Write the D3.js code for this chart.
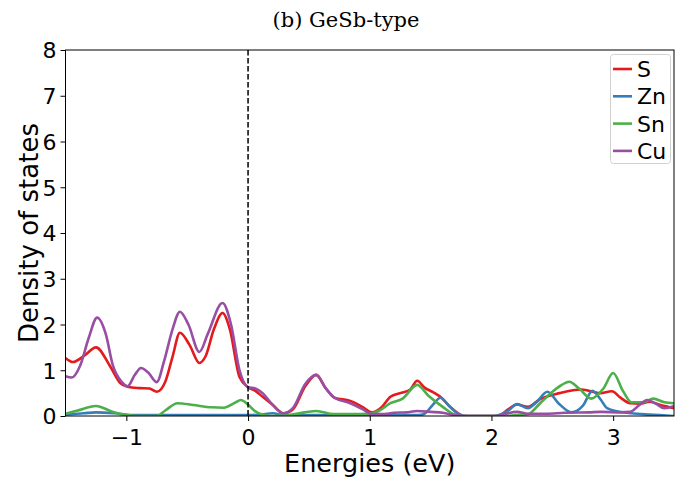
<!DOCTYPE html>
<html>
<head>
<meta charset="utf-8">
<script src="https://cdn.jsdelivr.net/npm/d3@7"></script>
<style>
  html, body { margin: 0; padding: 0; background: #fff; }
  svg { display: block; }
  .tick text { font-family: "DejaVu Sans", sans-serif; font-size: 22px; fill: #000; }
</style>
</head>
<body>
<svg id="chart" width="683" height="479"></svg>
<script>
// Projected density of states, GeSb-type structure (energies relative to E_F)
const species = ["S", "Zn", "Sn", "Cu"];
const colors = ["#e41a1c", "#377eb8", "#4daf4a", "#984ea3"];

const sE = [-1.5,-1.44,-1.34,-1.25,-1.13,-1.05,-0.99,-0.89,-0.81,-0.75,-0.68,-0.62,-0.56,-0.48,-0.40,-0.35,-0.28,-0.21,-0.15,-0.07,0,0.06,0.12,0.2,0.29,0.37,0.47,0.56,0.64,0.71,0.84,0.94,1.02,1.1,1.17,1.25,1.33,1.39,1.45,1.52,1.58,1.66,1.73,1.78,2.02,2.07,2.14,2.21,2.3,2.4,2.56,2.74,2.89,2.99,3.06,3.14,3.22,3.3,3.39,3.5];
const sDos = [1.27,1.18,1.33,1.50,1.07,0.72,0.64,0.61,0.60,0.53,0.75,1.30,1.82,1.55,1.16,1.30,1.90,2.25,1.90,0.85,0.63,0.55,0.42,0.25,0.06,0.15,0.65,0.90,0.60,0.40,0.33,0.20,0.08,0.20,0.42,0.50,0.57,0.77,0.62,0.52,0.42,0.20,0.05,0.0,0.0,0.02,0.15,0.25,0.20,0.37,0.50,0.58,0.50,0.54,0.40,0.28,0.27,0.31,0.24,0.17];

const znE = [-1.5,-1.35,-1.25,-1.1,-0.95,-0.5,0,0.1,0.2,0.3,0.5,1.0,1.4,1.45,1.52,1.58,1.66,1.74,1.8,2.02,2.07,2.14,2.21,2.3,2.37,2.46,2.55,2.66,2.75,2.83,2.9,2.95,3.04,3.15,3.3,3.5];
const znDos = [0.03,0.06,0.08,0.06,0.02,0.02,0.02,0.03,0.06,0.02,0.02,0.02,0.02,0.05,0.25,0.40,0.20,0.03,0.0,0.0,0.03,0.12,0.26,0.17,0.30,0.53,0.28,0.08,0.22,0.55,0.35,0.17,0.10,0.06,0.03,0.0];

const snE = [-1.5,-1.4,-1.25,-1.12,-1.0,-0.9,-0.75,-0.68,-0.58,-0.45,-0.3,-0.2,-0.1,-0.06,0,0.05,0.12,0.2,0.3,0.4,0.56,0.7,0.85,1.0,1.08,1.17,1.27,1.39,1.48,1.6,1.7,1.78,2.1,2.2,2.3,2.4,2.55,2.64,2.72,2.82,2.92,3.0,3.08,3.15,3.25,3.33,3.42,3.5];
const snDos = [0.05,0.12,0.22,0.10,0.02,0.0,0.0,0.12,0.28,0.24,0.19,0.18,0.30,0.35,0.25,0.12,0.03,0.0,0.01,0.05,0.11,0.04,0.04,0.05,0.12,0.28,0.38,0.68,0.45,0.20,0.03,0.0,0.0,0.02,0.04,0.28,0.63,0.75,0.60,0.38,0.60,0.94,0.55,0.30,0.30,0.38,0.30,0.28];

const cuE = [-1.5,-1.45,-1.38,-1.31,-1.24,-1.17,-1.11,-1.04,-0.99,-0.93,-0.88,-0.82,-0.75,-0.69,-0.62,-0.56,-0.49,-0.40,-0.33,-0.21,-0.14,-0.07,0,0.06,0.12,0.2,0.29,0.37,0.47,0.56,0.64,0.71,0.84,0.94,1.02,1.1,1.2,1.3,1.39,1.5,1.6,1.7,1.8,2.05,2.12,2.21,2.3,2.45,2.6,2.8,2.9,3.06,3.14,3.22,3.28,3.35,3.42,3.5];
const cuDos = [0.87,0.84,1.10,1.70,2.15,1.80,1.10,0.75,0.65,0.90,1.05,0.95,0.74,1.20,1.90,2.28,2.00,1.40,1.80,2.47,2.00,1.00,0.63,0.60,0.50,0.25,0.06,0.18,0.70,0.90,0.60,0.40,0.28,0.15,0.04,0.04,0.07,0.08,0.11,0.09,0.07,0.02,0.0,0.0,0.05,0.09,0.05,0.05,0.07,0.08,0.09,0.08,0.09,0.25,0.35,0.27,0.17,0.22];

const xTicks = [-1, 0, 1, 2, 3];
const yTicks = [0, 1, 2, 3, 4, 5, 6, 7, 8];
const xDomain = [-1.5, 3.5];
const yDomain = [0, 8];

const seriesData = [
  { name: species[0], color: colors[0], e: sE, v: sDos },
  { name: species[1], color: colors[1], e: znE, v: znDos },
  { name: species[2], color: colors[2], e: snE, v: snDos },
  { name: species[3], color: colors[3], e: cuE, v: cuDos }
];

const W = 683, H = 479;
const margin = { top: 50, right: 9, bottom: 63, left: 65.5 };
const svg = d3.select("#chart");

const x = d3.scaleLinear().domain(xDomain).range([margin.left, W - margin.right]);
const y = d3.scaleLinear().domain(yDomain).range([H - margin.bottom, margin.top]);

svg.append("defs").append("clipPath").attr("id", "plotClip")
  .append("rect")
  .attr("x", margin.left).attr("y", margin.top)
  .attr("width", W - margin.right - margin.left)
  .attr("height", H - margin.bottom - margin.top);

// DOS curves
const line = d3.line()
  .x(d => x(d[0]))
  .y(d => y(d[1]))
  .curve(d3.curveMonotoneX);

const curves = svg.append("g").attr("clip-path", "url(#plotClip)");
seriesData.forEach(s => {
  curves.append("path")
    .datum(s.e.map((e, i) => [e, s.v[i]]))
    .attr("fill", "none")
    .attr("stroke", s.color)
    .attr("stroke-width", 2.6)
    .attr("stroke-linejoin", "round")
    .attr("d", line);
});

// Fermi level
svg.append("line")
  .attr("x1", x(0)).attr("x2", x(0))
  .attr("y1", y(8)).attr("y2", y(0))
  .attr("stroke", "#000").attr("stroke-width", 1.5)
  .attr("stroke-dasharray", "5.5,2.5");

// axes
const xAxis = svg.append("g")
  .attr("transform", `translate(0,${H - margin.bottom})`)
  .call(d3.axisBottom(x).tickValues(xTicks).tickSize(5).tickPadding(4).tickFormat(d3.format("d")));
const yAxis = svg.append("g")
  .attr("transform", `translate(${margin.left},0)`)
  .call(d3.axisLeft(y).tickValues(yTicks).tickSize(5).tickPadding(4).tickFormat(d3.format("d")));
[xAxis, yAxis].forEach(a => {
  a.select(".domain").remove();
  a.selectAll(".tick line").attr("stroke", "#000").attr("stroke-width", 1);
});
xAxis.selectAll(".tick text").attr("dy", "0.92em");
yAxis.selectAll(".tick text").attr("dy", "0.36em");

// frame
svg.append("rect")
  .attr("x", margin.left).attr("y", margin.top)
  .attr("width", W - margin.right - margin.left)
  .attr("height", H - margin.bottom - margin.top)
  .attr("fill", "none").attr("stroke", "#000").attr("stroke-width", 1);

// axis titles
svg.append("text")
  .attr("x", (margin.left + W - margin.right) / 2)
  .attr("y", 472)
  .attr("text-anchor", "middle")
  .attr("font-family", "DejaVu Sans")
  .attr("font-size", 25.5)
  .text("Energies (eV)");

svg.append("text")
  .attr("transform", `translate(38,${(margin.top + H - margin.bottom) / 2}) rotate(-90)`)
  .attr("text-anchor", "middle")
  .attr("font-family", "DejaVu Sans")
  .attr("font-size", 26)
  .text("Density of states");

// title
svg.append("text")
  .attr("x", 346)
  .attr("y", 27)
  .attr("text-anchor", "middle")
  .attr("font-family", "DejaVu Serif")
  .attr("font-size", 21)
  .text("(b) GeSb-type");

// legend
const lg = svg.append("g");
lg.append("rect")
  .attr("x", 610.5).attr("y", 54.5)
  .attr("width", 60).attr("height", 109)
  .attr("rx", 3)
  .attr("fill", "#fff").attr("fill-opacity", 0.8)
  .attr("stroke", "#d0d0d0").attr("stroke-width", 1);
seriesData.forEach((s, i) => {
  const cy = 69 + i * 27.3;
  lg.append("line")
    .attr("x1", 613).attr("x2", 632)
    .attr("y1", cy).attr("y2", cy)
    .attr("stroke", s.color).attr("stroke-width", 2.6);
  lg.append("text")
    .attr("x", 637).attr("y", cy)
    .attr("dy", "0.36em")
    .attr("font-family", "DejaVu Sans")
    .attr("font-size", 22)
    .text(s.name);
});
</script>
</body>
</html>
